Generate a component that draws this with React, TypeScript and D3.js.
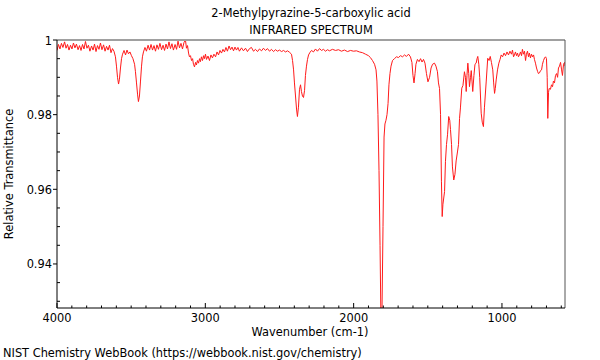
import React from "react";
import * as d3 from "d3";

const titleLines = ["2-Methylpyrazine-5-carboxylic acid", "INFRARED SPECTRUM"];
const xLabel = "Wavenumber (cm-1)";
const yLabel = "Relative Transmittance";
const credit = "NIST Chemistry WebBook (https://webbook.nist.gov/chemistry)";

const xMajorTicks = [4000, 3000, 2000, 1000];
const yMajorTicks = [1, 0.98, 0.96, 0.94];
const yTickLabels = ["1", "0.98", "0.96", "0.94"];

const wavenumbers = [
  4000, 3990, 3980, 3970, 3960, 3949, 3939, 3929, 3919, 3909, 3899, 3889, 3879, 3869, 3858, 3848, 3838, 3828, 3818, 3808,
  3798, 3788, 3778, 3767, 3757, 3747, 3737, 3727, 3717, 3707, 3697, 3686, 3676, 3666, 3656, 3646, 3636, 3626, 3616,
  3606, 3599, 3592, 3585, 3579, 3572, 3565, 3558, 3548, 3538, 3528, 3518, 3508, 3498, 3488, 3477, 3471, 3464, 3457, 3451,
  3444, 3437, 3430, 3424, 3417, 3407, 3397, 3386, 3376,
  3366, 3356, 3346, 3336, 3326, 3316, 3306, 3295, 3285, 3275, 3265, 3255, 3245, 3235, 3225, 3215, 3204, 3194, 3184, 3174,
  3164, 3154, 3144, 3134, 3127, 3120, 3113, 3107, 3100, 3093, 3086, 3080, 3073, 3066, 3060, 3053, 3046, 3039, 3033, 3026,
  3019, 3012, 3006, 2999, 2992, 2982, 2972, 2962, 2952, 2942, 2931, 2921, 2911, 2901, 2891, 2881, 2871, 2861, 2851, 2840,
  2830, 2820, 2810, 2800, 2790, 2780, 2770, 2756, 2743, 2729, 2716, 2702,
  2689, 2675, 2662, 2648, 2635, 2621, 2608, 2594, 2581, 2567, 2554, 2540, 2527, 2513, 2500, 2486, 2473, 2459, 2446, 2432,
  2419, 2412, 2405, 2399, 2392, 2385, 2379, 2372, 2365, 2358, 2352, 2345, 2338, 2331, 2325, 2318, 2311, 2304, 2294, 2284,
  2271, 2257, 2244, 2230, 2217, 2203, 2190, 2176, 2163, 2143, 2122, 2102, 2082, 2062, 2041, 2021, 2001, 1981, 1961, 1940,
  1920, 1900, 1887, 1873, 1859, 1849, 1843, 1836, 1829, 1822, 1816, 1809, 1802, 1795, 1789, 1782, 1775, 1768, 1762, 1755,
  1748, 1738, 1725, 1711, 1698, 1684, 1670, 1657, 1644, 1630, 1617, 1607, 1600, 1593, 1586, 1580, 1570, 1559, 1549, 1539,
  1529, 1519, 1509, 1499, 1488, 1478, 1468, 1455, 1445, 1435, 1428, 1421, 1414, 1408, 1403, 1398, 1387, 1381, 1374, 1367,
  1359, 1352, 1347, 1340, 1334, 1325, 1317, 1309, 1300, 1293, 1286, 1280, 1271, 1263, 1253, 1246, 1241, 1236, 1230, 1224,
  1219, 1212, 1207, 1202, 1197, 1189, 1182, 1174, 1168, 1163, 1156, 1150, 1140, 1133, 1125, 1118, 1106, 1096, 1087, 1079,
  1071, 1062, 1056, 1050, 1045, 1039, 1030, 1021, 1013, 1005, 996, 986, 976, 966, 956, 946, 936, 929, 922, 916,
  909, 902, 895, 889, 882, 875, 868, 862, 855, 848, 841, 835, 828, 821, 815, 808, 801, 794, 787, 781,
  774, 767, 760, 754, 747, 740, 733, 727, 720, 713, 706, 700, 695, 691, 686, 682, 673, 666, 659, 653,
  646, 639, 632, 625, 619, 612, 605, 598, 592, 585, 578, 575,
];

const transmittance = [
  0.9972, 0.9988, 0.9976, 0.9991, 0.998, 0.9995, 0.9978, 0.9988, 0.9973, 0.9986, 0.9976, 0.9992, 0.9979, 0.9989, 0.9974, 0.9985, 0.9972, 0.9988, 0.9976, 0.9996,
  0.9978, 0.9986, 0.997, 0.9984, 0.9973, 0.9989, 0.9969, 0.9985, 0.9975, 0.9992, 0.9974, 0.9987, 0.997, 0.9983, 0.9973, 0.9986, 0.9966, 0.9977, 0.997,
  0.9955, 0.993, 0.99, 0.9882, 0.9895, 0.9925, 0.995, 0.9962, 0.9972, 0.996, 0.9973, 0.9963, 0.9968, 0.9958, 0.995, 0.9935, 0.9915, 0.9885, 0.9855, 0.9835,
  0.985, 0.989, 0.993, 0.9955, 0.9968, 0.998, 0.997, 0.9986, 0.9973,
  0.9988, 0.9973, 0.9985, 0.997, 0.9987, 0.9975, 0.9991, 0.9974, 0.9986, 0.9972, 0.9989, 0.9976, 0.9995, 0.9977, 0.999, 0.9973, 0.9988, 0.9975, 0.9997, 0.9979,
  0.9991, 0.9976, 0.9993, 1.0, 0.9978, 0.9985, 0.9965, 0.9955, 0.9958, 0.9945, 0.995, 0.9935, 0.9928, 0.994, 0.9933, 0.9945, 0.9938, 0.995, 0.9942, 0.9955,
  0.9945, 0.9958, 0.995, 0.9962, 0.9948, 0.9957, 0.9945, 0.996, 0.9952, 0.9962, 0.9955, 0.9968, 0.996, 0.9972, 0.9965, 0.9975, 0.9968, 0.998, 0.997, 0.9984,
  0.9974, 0.9981, 0.9971, 0.9981, 0.9973, 0.998, 0.997, 0.9979, 0.9971, 0.9978, 0.9969, 0.9977,
  0.998, 0.997, 0.9975, 0.9969, 0.9976, 0.9971, 0.9978, 0.9972, 0.9977, 0.997, 0.9975, 0.9969, 0.9974, 0.997, 0.9973, 0.9969, 0.9972, 0.9968, 0.9971, 0.9967,
  0.9962, 0.9945, 0.992, 0.9885, 0.985, 0.9815, 0.9795, 0.982, 0.9868, 0.988, 0.9862, 0.985, 0.9846, 0.9865, 0.9905, 0.993, 0.9948, 0.996, 0.9967, 0.9972,
  0.9968, 0.9976, 0.997, 0.9977, 0.9972, 0.9975, 0.997, 0.9974, 0.9971, 0.9975, 0.9972, 0.9974, 0.997, 0.9973, 0.9969, 0.9972, 0.997, 0.9971, 0.9968, 0.9966,
  0.9962, 0.9958, 0.9953, 0.9945, 0.9935, 0.992, 0.989, 0.98, 0.965, 0.945, 0.925, 0.927, 0.95, 0.974, 0.9775, 0.9785, 0.98, 0.983, 0.988, 0.991,
  0.993, 0.9945, 0.995, 0.9955, 0.9953, 0.9958, 0.9955, 0.996, 0.9956, 0.9962, 0.9955, 0.994, 0.9905, 0.9885, 0.991, 0.9935, 0.9948, 0.9942, 0.995, 0.9941,
  0.9948, 0.9938, 0.991, 0.9888, 0.99, 0.9925, 0.9935, 0.9938, 0.993, 0.9915, 0.9885, 0.987, 0.98, 0.962, 0.9527, 0.956, 0.9594, 0.9674, 0.972, 0.9746,
  0.9795, 0.9785, 0.976, 0.972, 0.966, 0.9625, 0.964, 0.9676, 0.97, 0.972, 0.979, 0.9818, 0.9871, 0.9878, 0.9915, 0.99, 0.9862, 0.9905, 0.9938, 0.991,
  0.9875, 0.99, 0.9918, 0.989, 0.9862, 0.9905, 0.9935, 0.9938, 0.995, 0.9956, 0.9935, 0.99, 0.9804, 0.978, 0.9768, 0.982, 0.989, 0.9951, 0.9945, 0.9956,
  0.994, 0.992, 0.9885, 0.9857, 0.987, 0.9893, 0.992, 0.9938, 0.9948, 0.996, 0.9955, 0.9965, 0.9958, 0.9968, 0.996, 0.997, 0.9962, 0.9973, 0.9955, 0.996,
  0.9968, 0.9958, 0.9965, 0.9955, 0.996, 0.9968, 0.9958, 0.9975, 0.9962, 0.997, 0.9945, 0.9962, 0.997, 0.9955, 0.9965, 0.9952, 0.9962, 0.9955, 0.996, 0.9948,
  0.9938, 0.9925, 0.9916, 0.991, 0.9912, 0.9918, 0.992, 0.9935, 0.9945, 0.9952, 0.9955, 0.995, 0.99, 0.979, 0.986, 0.987, 0.9868, 0.988, 0.9875, 0.989,
  0.9885, 0.9905, 0.991, 0.99, 0.9925, 0.993, 0.994, 0.992, 0.9905, 0.9935, 0.994, 0.993,
];

const W = 600;
const H = 360;
const left = 57;
const right = 565;
const top = 40;
const bottom = 308;
const FONT = "'DejaVu Sans', sans-serif";
const FS = 11.4;

export default function App() {
  const x = d3.scaleLinear().domain([4000, 575]).range([left, right]);
  const y = d3.scaleLinear().domain([0.9282, 1.0]).range([bottom, top]);

  const pts: [number, number][] = wavenumbers.map((w, i) => [w, transmittance[i]]);
  const line = d3
    .line<[number, number]>()
    .x((d) => x(d[0]))
    .y((d) => y(d[1]));

  const xMinor = d3.range(4000, 574, -100).filter((v) => v % 1000 !== 0);
  const yMinor = d3.range(0.93, 1.0001, 0.005).filter(
    (v) => !yMajorTicks.some((m) => Math.abs(m - v) < 1e-6)
  );

  return (
    <svg
      width={W}
      height={H}
      style={{ position: "absolute", left: 0, top: 0, background: "#fff" }}
      fontFamily={FONT}
    >
      <defs>
        <clipPath id="plotClip">
          <rect x={left} y={top} width={right - left} height={bottom - top} />
        </clipPath>
      </defs>
      <rect x={0} y={0} width={W} height={H} fill="#fff" />
      <text x={311} y={17} textAnchor="middle" fontSize={FS} fill="#000">
        {titleLines[0]}
      </text>
      <text x={311} y={34} textAnchor="middle" fontSize={FS} fill="#000">
        {titleLines[1]}
      </text>

      <path
        d={line(pts) || ""}
        fill="none"
        stroke="#ff1a1a"
        strokeWidth={1}
        clipPath="url(#plotClip)"
      />

      {/* spines */}
      <line x1={left} x2={right} y1={top} y2={top} stroke="#a0a0a0" strokeWidth={2} />
      <line x1={right} x2={right} y1={top} y2={bottom} stroke="#555" strokeWidth={1} />
      <line x1={left} x2={left} y1={top} y2={bottom} stroke="#000" strokeWidth={1} />
      <line x1={left} x2={right} y1={bottom} y2={bottom} stroke="#000" strokeWidth={1} />

      {/* x ticks */}
      {xMajorTicks.map((t) => (
        <g key={"xm" + t}>
          <line x1={x(t)} x2={x(t)} y1={bottom} y2={bottom - 5} stroke="#000" />
          <text x={x(t)} y={bottom + 14} textAnchor="middle" fontSize={FS} fill="#000">
            {t}
          </text>
        </g>
      ))}
      {xMinor.map((t) => (
        <line key={"xn" + t} x1={x(t)} x2={x(t)} y1={bottom} y2={bottom - 2.5} stroke="#000" />
      ))}

      {/* y ticks */}
      {yMajorTicks.map((t, i) => (
        <g key={"ym" + t}>
          <line x1={left - 4} x2={left} y1={y(t)} y2={y(t)} stroke="#000" />
          <text x={left - 5} y={y(t) + 4.5} textAnchor="end" fontSize={FS} fill="#000">
            {yTickLabels[i]}
          </text>
        </g>
      ))}
      {yMinor.map((t) => (
        <line key={"yn" + t.toFixed(3)} x1={left} x2={left + 3} y1={y(t)} y2={y(t)} stroke="#000" />
      ))}

      <text x={310} y={336} textAnchor="middle" fontSize={FS} fill="#000">
        {xLabel}
      </text>
      <text
        transform={`translate(13, ${(top + bottom) / 2}) rotate(-90)`}
        textAnchor="middle"
        fontSize={FS}
        fill="#000"
      >
        {yLabel}
      </text>
      <text x={3} y={357} fontSize={FS} fill="#000">
        {credit}
      </text>
    </svg>
  );
}
